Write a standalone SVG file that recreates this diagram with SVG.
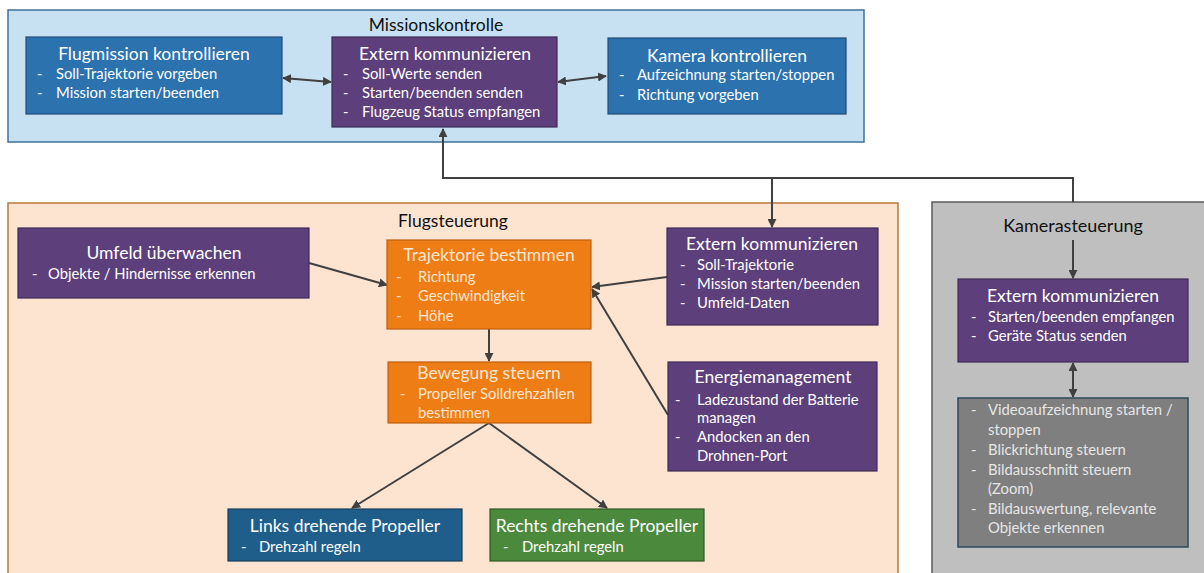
<svg xmlns="http://www.w3.org/2000/svg" width="1204" height="573" viewBox="0 0 1204 573">
<defs>
<marker id="ah" viewBox="0 0 10 10" refX="9" refY="5" markerWidth="9" markerHeight="9" markerUnits="userSpaceOnUse" orient="auto-start-reverse">
<path d="M0,0 L10,5 L0,10 z" fill="#404040"/>
</marker>
<style>
text{font-family:Lato,"Open Sans","Liberation Sans",sans-serif;}
.t{font-size:17.5px;fill:#fff;text-anchor:middle;}
.b{font-size:14.8px;fill:#fff;}
.o{fill:#fde6cf;}
.g{fill:#e6e6e6;}
.ct{font-size:17.5px;fill:#111;}
.blue{fill:#2c72ae;stroke:#1f4e79;stroke-width:1.2;}
.purple{fill:#5d3f7b;stroke:#3e2a57;stroke-width:1.2;}
.orange{fill:#ee7d16;stroke:#c0600e;stroke-width:1.2;}
.c{fill:none;stroke:#404040;stroke-width:2;}
</style>
</defs>
<rect width="1204" height="573" fill="#fff"/>
<g id="missionskontrolle">
<rect x="8" y="10" width="856" height="132" fill="#c7e1f3" stroke="#41719c" stroke-width="1.5"/>
<text class="ct" x="436" y="31" text-anchor="middle">Missionskontrolle</text>
</g>
<g id="flugsteuerung">
<rect x="8" y="203" width="890" height="380" fill="#fce4d1" stroke="#b8793a" stroke-width="1.5"/>
<text class="ct" x="453" y="227" text-anchor="middle">Flugsteuerung</text>
</g>
<g id="kamerasteuerung">
<rect x="932" y="202" width="290" height="380" fill="#bfbfbf" stroke="#5a5a5a" stroke-width="1.5"/>
<text x="1073" y="232" text-anchor="middle" font-family="Liberation Sans, Arial, sans-serif" font-size="18" fill="#111">Kamerasteuerung</text>
</g>
<g id="connectors">
<path class="c" d="M283,78 L331,82" marker-start="url(#ah)" marker-end="url(#ah)"/>
<path class="c" d="M558,82 L606,76" marker-start="url(#ah)" marker-end="url(#ah)"/>
<path class="c" d="M1073,202 V178 H443 V129" marker-end="url(#ah)"/>
<path class="c" d="M772,178 V227" marker-end="url(#ah)"/>
<path class="c" d="M1073,240 V278" marker-end="url(#ah)"/>
<path class="c" d="M1073,363 V397" marker-start="url(#ah)" marker-end="url(#ah)"/>
<path class="c" d="M309,263 L387,285" marker-end="url(#ah)"/>
<path class="c" d="M667,277 L592,287" marker-end="url(#ah)"/>
<path class="c" d="M668,415 L592,289" marker-end="url(#ah)"/>
<path class="c" d="M489,329 V361" marker-end="url(#ah)"/>
<path class="c" d="M489,423 L352,508" marker-end="url(#ah)"/>
<path class="c" d="M489,423 L607,508" marker-end="url(#ah)"/>
</g>
<g id="flugmission">
<rect class="blue" x="26" y="37" width="256" height="77"/>
<text class="t" x="154" y="60">Flugmission kontrollieren</text>
<text class="b" x="37" y="79">-</text><text class="b" x="56" y="79">Soll-Trajektorie vorgeben</text>
<text class="b" x="37" y="98">-</text><text class="b" x="56" y="98">Mission starten/beenden</text>
</g>
<g id="extern-mission">
<rect class="purple" x="332" y="37" width="225" height="90"/>
<text class="t" x="445" y="60">Extern kommunizieren</text>
<text class="b" x="343" y="79">-</text><text class="b" x="362" y="79">Soll-Werte senden</text>
<text class="b" x="343" y="98">-</text><text class="b" x="362" y="98">Starten/beenden senden</text>
<text class="b" x="343" y="117">-</text><text class="b" x="362" y="117">Flugzeug Status empfangen</text>
</g>
<g id="kamera-kontrollieren">
<rect class="blue" x="608" y="38" width="238" height="76"/>
<text class="t" x="727" y="62">Kamera kontrollieren</text>
<text class="b" x="619" y="80">-</text><text class="b" x="637" y="80">Aufzeichnung starten/stoppen</text>
<text class="b" x="619" y="100">-</text><text class="b" x="637" y="100">Richtung vorgeben</text>
</g>
<g id="umfeld">
<rect class="purple" x="18" y="228" width="291" height="70"/>
<text class="t" x="164" y="259">Umfeld überwachen</text>
<text class="b" x="32" y="279">-</text><text class="b" x="48" y="279">Objekte / Hindernisse erkennen</text>
</g>
<g id="trajektorie">
<rect class="orange" x="387" y="240" width="204" height="89"/>
<text class="t o" x="489" y="261">Trajektorie bestimmen</text>
<text class="b o" x="396" y="282">-</text><text class="b o" x="418" y="282">Richtung</text>
<text class="b o" x="396" y="301">-</text><text class="b o" x="418" y="301">Geschwindigkeit</text>
<text class="b o" x="396" y="321">-</text><text class="b o" x="418" y="321">Höhe</text>
</g>
<g id="extern-flug">
<rect class="purple" x="667" y="228" width="211" height="97"/>
<text class="t" x="772" y="250">Extern kommunizieren</text>
<text class="b" x="680" y="270">-</text><text class="b" x="697" y="270">Soll-Trajektorie</text>
<text class="b" x="680" y="289">-</text><text class="b" x="697" y="289">Mission starten/beenden</text>
<text class="b" x="680" y="308">-</text><text class="b" x="697" y="308">Umfeld-Daten</text>
</g>
<g id="bewegung">
<rect class="orange" x="388" y="362" width="203" height="61"/>
<text class="t o" x="489" y="379">Bewegung steuern</text>
<text class="b o" x="400" y="399">-</text><text class="b o" x="418" y="399">Propeller Solldrehzahlen</text>
<text class="b o" x="418" y="418">bestimmen</text>
</g>
<g id="energie">
<rect class="purple" x="668" y="362" width="209" height="109"/>
<text class="t" x="773" y="383">Energiemanagement</text>
<text class="b" x="675" y="405">-</text><text class="b" x="697" y="405">Ladezustand der Batterie</text>
<text class="b" x="697" y="423">managen</text>
<text class="b" x="675" y="442">-</text><text class="b" x="697" y="442">Andocken an den</text>
<text class="b" x="697" y="461">Drohnen-Port</text>
</g>
<g id="links">
<rect x="228" y="509" width="234" height="52" fill="#1f5e8a" stroke="#163f5c" stroke-width="1.2"/>
<text class="t" x="345" y="532">Links drehende Propeller</text>
<text class="b" x="241" y="552">-</text><text class="b" x="259" y="552">Drehzahl regeln</text>
</g>
<g id="rechts">
<rect x="490" y="509" width="214" height="52" fill="#4b8a3c" stroke="#2f5a24" stroke-width="1.2"/>
<text class="t" x="597" y="532">Rechts drehende Propeller</text>
<text class="b" x="503" y="552">-</text><text class="b" x="522" y="552">Drehzahl regeln</text>
</g>
<g id="extern-kamera">
<rect class="purple" x="958" y="279" width="230" height="83"/>
<text class="t" x="1073" y="302">Extern kommunizieren</text>
<text class="b" x="971" y="322">-</text><text class="b" x="988" y="322">Starten/beenden empfangen</text>
<text class="b" x="971" y="341">-</text><text class="b" x="988" y="341">Geräte Status senden</text>
</g>
<g id="kamera-funktionen">
<rect x="958" y="398" width="230" height="149" fill="#7f7f7f" stroke="#2d4a5a" stroke-width="1.5"/>
<text class="b g" x="971" y="415">-</text><text class="b g" x="988" y="415">Videoaufzeichnung starten /</text>
<text class="b g" x="988" y="435">stoppen</text>
<text class="b g" x="971" y="455">-</text><text class="b g" x="988" y="455">Blickrichtung steuern</text>
<text class="b g" x="971" y="475">-</text><text class="b g" x="988" y="475">Bildausschnitt steuern</text>
<text class="b g" x="988" y="494">(Zoom)</text>
<text class="b g" x="971" y="514">-</text><text class="b g" x="988" y="514">Bildauswertung, relevante</text>
<text class="b g" x="988" y="533">Objekte erkennen</text>
</g>
</svg>
